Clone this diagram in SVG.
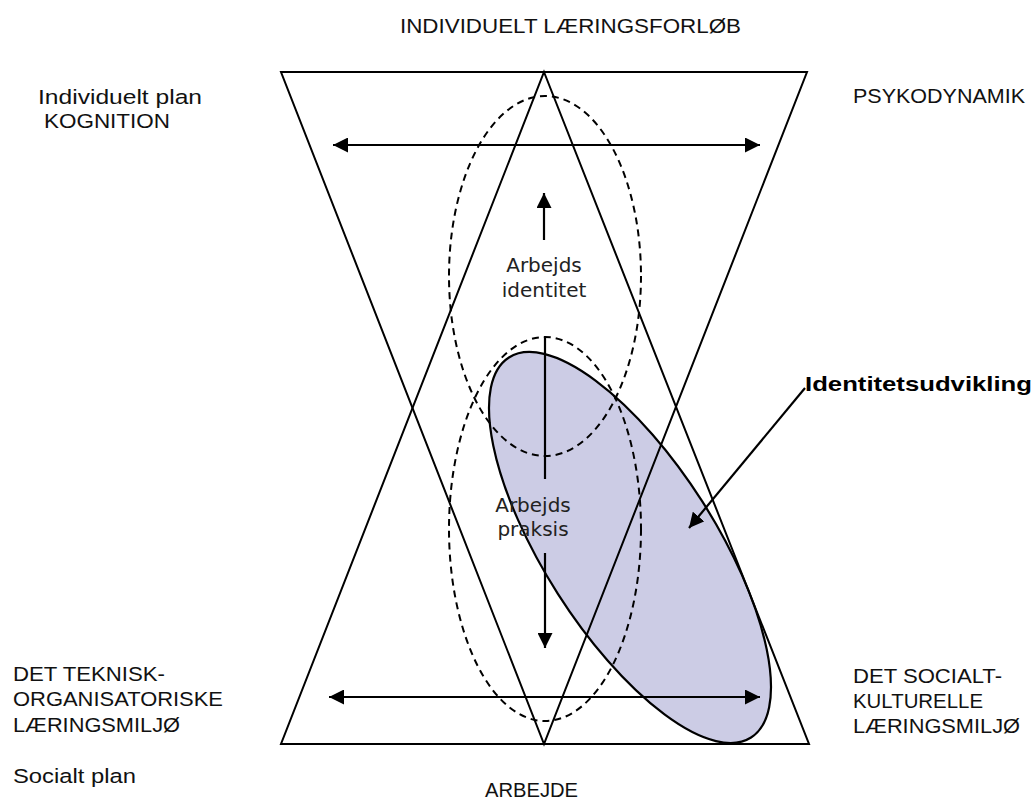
<svg xmlns="http://www.w3.org/2000/svg" width="1034" height="801" viewBox="0 0 1034 801">
  <style>
    .ln { fill: none; stroke: #000; stroke-width: 2; }
    .dash { fill: none; stroke: #000; stroke-width: 2; stroke-dasharray: 7 5; }
    .lbl { font-family: "Liberation Sans", Arial, sans-serif; font-size: 20.5px; fill: #111; }
    .mid { font-family: "DejaVu Sans", Verdana, sans-serif; font-size: 20px; fill: #222; text-anchor: middle; }
    .bold { font-family: "Liberation Sans", Arial, sans-serif; font-size: 21px; font-weight: bold; fill: #000; }
    .arr { fill: none; stroke: #000; stroke-width: 2.2; }
  </style>
  <defs>
    <marker id="ah" viewBox="0 0 15 15" refX="15" refY="7.5" markerWidth="15" markerHeight="15" markerUnits="userSpaceOnUse" orient="auto-start-reverse">
      <path d="M0,0 L15,7.5 L0,15 z" fill="#000"/>
    </marker>
  </defs>
  <rect width="1034" height="801" fill="#fff"/>

  <g id="identity-ellipse">
    <ellipse cx="630" cy="547.5" rx="225.3" ry="85.7" transform="rotate(57.5 630 547.5)" fill="#CCCCE5" stroke="#000" stroke-width="2.2"/>
  </g>

  <g id="triangle-down">
    <polygon class="ln" points="281,72 807,72 544,744"/>
  </g>
  <g id="triangle-up">
    <polygon class="ln" points="544,72 809,744 281,744"/>
  </g>

  <g id="ellipse-identitet">
    <ellipse class="dash" cx="545" cy="276" rx="96" ry="180"/>
  </g>
  <g id="ellipse-praksis">
    <ellipse class="dash" cx="545" cy="529" rx="96" ry="192"/>
  </g>

  <g id="connectors">
    <line class="arr" x1="333" y1="145" x2="760" y2="145" marker-start="url(#ah)" marker-end="url(#ah)"/>
    <line class="arr" x1="329" y1="697" x2="760" y2="697" marker-start="url(#ah)" marker-end="url(#ah)"/>
    <line class="arr" x1="544" y1="240" x2="544" y2="193" marker-end="url(#ah)"/>
    <line class="arr" x1="545" y1="337" x2="545" y2="479"/>
    <line class="arr" x1="545" y1="553" x2="545" y2="648" marker-end="url(#ah)"/>
    <line class="arr" x1="805" y1="388" x2="689" y2="528" marker-end="url(#ah)"/>
  </g>

  <g id="label-top">
    <text class="lbl" x="400" y="33" textLength="341" lengthAdjust="spacingAndGlyphs">INDIVIDUELT LÆRINGSFORLØB</text>
  </g>
  <g id="label-individuelt">
    <text class="lbl" x="38" y="104" textLength="164" lengthAdjust="spacingAndGlyphs">Individuelt plan</text>
    <text class="lbl" x="44" y="128" textLength="126" lengthAdjust="spacingAndGlyphs">KOGNITION</text>
  </g>
  <g id="label-psykodynamik">
    <text class="lbl" x="853" y="103" textLength="172" lengthAdjust="spacingAndGlyphs">PSYKODYNAMIK</text>
  </g>
  <g id="label-identitet">
    <text class="mid" x="544" y="272">Arbejds</text>
    <text class="mid" x="544" y="297">identitet</text>
  </g>
  <g id="label-praksis">
    <text class="mid" x="533" y="512">Arbejds</text>
    <text class="mid" x="533" y="536">praksis</text>
  </g>
  <g id="label-identitetsudvikling">
    <text class="bold" x="805" y="391" textLength="227" lengthAdjust="spacingAndGlyphs">Identitetsudvikling</text>
  </g>
  <g id="label-teknisk">
    <text class="lbl" x="13" y="681" textLength="152" lengthAdjust="spacingAndGlyphs">DET TEKNISK-</text>
    <text class="lbl" x="13" y="706" textLength="210" lengthAdjust="spacingAndGlyphs">ORGANISATORISKE</text>
    <text class="lbl" x="13" y="732" textLength="167" lengthAdjust="spacingAndGlyphs">LÆRINGSMILJØ</text>
  </g>
  <g id="label-socialt-plan">
    <text class="lbl" x="13" y="783" textLength="123" lengthAdjust="spacingAndGlyphs">Socialt plan</text>
  </g>
  <g id="label-social">
    <text class="lbl" x="853" y="683" textLength="149" lengthAdjust="spacingAndGlyphs">DET SOCIALT-</text>
    <text class="lbl" x="853" y="708" textLength="130" lengthAdjust="spacingAndGlyphs">KULTURELLE</text>
    <text class="lbl" x="853" y="733" textLength="167" lengthAdjust="spacingAndGlyphs">LÆRINGSMILJØ</text>
  </g>
  <g id="label-arbejde">
    <text class="lbl" x="485" y="797" textLength="93" lengthAdjust="spacingAndGlyphs">ARBEJDE</text>
  </g>
</svg>
